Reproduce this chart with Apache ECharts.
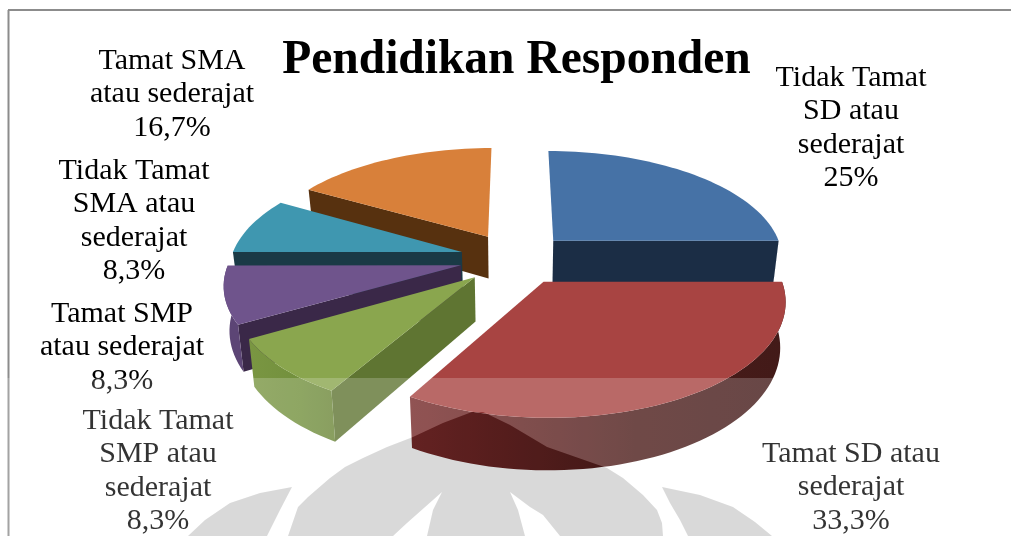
<!DOCTYPE html>
<html>
<head>
<meta charset="utf-8">
<style>html,body{margin:0;padding:0;background:#fff}#chart{width:1011px;height:536px}</style>
<script src="https://cdn.jsdelivr.net/npm/echarts@6/dist/echarts.min.js"></script>
</head>
<body>
<div id="chart"></div>
<script>
// Survey shares, clockwise from twelve o'clock
const categories = [
  'Tidak Tamat\nSD atau\nsederajat',
  'Tamat SD atau\nsederajat',
  'Tidak Tamat\nSMP atau\nsederajat',
  'Tamat SMP\natau sederajat',
  'Tidak Tamat\nSMA atau\nsederajat',
  'Tamat SMA\natau sederajat'
];
const shares = [25, 33.3, 8.3, 8.3, 8.3, 16.7];
const chartTitle = 'Pendidikan Responden';

// Painter's order for the exploded slices, rear to front
const drawOrder = [0, 5, 4, 3, 2, 1];

const palette = [
  { top: '#4672a6', cut: '#1b2d45', rim: ['#1b2d45', '#1b2d45', '#1b2d45'] },
  { top: '#a84442', cut: '#421a18', rim: ['#762828', '#4c1c1a', '#421a18'] },
  { top: '#8aa64e', cut: '#5f7532', rim: ['#7a9642', '#72903d', '#6c8739'] },
  { top: '#6f548c', cut: '#3a2848', rim: ['#5c4575', '#5c4575', '#5c4575'] },
  { top: '#3f97b0', cut: '#1a3a46', rim: ['#1a3a46', '#1a3a46', '#1a3a46'] },
  { top: '#d8803a', cut: '#57310f', rim: ['#57310f', '#57310f', '#57310f'] }
];

// Label anchors: horizontal centre and first-line centre
const labelAnchors = [[851, 78], [851, 454], [158, 421], [122, 314], [134, 171], [172, 61]];
const labelLineHeight = 33.4;

// Perspective camera for the tilted pie
const cam = { xv: 515, yv: 258.5, c: 231, a: 108, b: 0.15, explode: 0.24, depth: 43, taper: 0.02 };

const total = shares.reduce((s, v) => s + v, 0);
const bounds = [];
shares.reduce((acc, v) => {
  const next = acc + v;
  bounds.push([acc / total * 360, next / total * 360]);
  return next;
}, 0);

function project(U, V) {
  const d = 1 - cam.b * V;
  return [cam.xv + cam.c * U / d, cam.yv + cam.a * V / d];
}
function lower(U, V) {
  const p = project(U, V);
  const d = 1 - cam.b * V;
  return [p[0] + (cam.xv - p[0]) * cam.taper, p[1] + cam.depth / d];
}
function arcPoints(fn, off, from, to) {
  const pts = [];
  const n = Math.max(2, Math.ceil(Math.abs(to - from) / 2));
  for (let i = 0; i <= n; i++) {
    const t = (from + (to - from) * i / n) * Math.PI / 180;
    pts.push(fn(off[0] + Math.sin(t), off[1] - Math.cos(t)));
  }
  return pts;
}
function poly(points, fill) {
  return { type: 'polygon', silent: true, shape: { points }, style: { fill, stroke: null } };
}

function renderSlice(params, api) {
  const idx = api.value(0);
  const [start, end] = bounds[idx];
  const mid = (start + end) / 2 * Math.PI / 180;
  const off = [cam.explode * Math.sin(mid), -cam.explode * Math.cos(mid)];
  const col = palette[idx];
  const children = [];

  // Radial cut faces that turn toward the viewer
  const cutFace = (deg) => {
    const t = deg * Math.PI / 180;
    const U = off[0] + Math.sin(t), V = off[1] - Math.cos(t);
    children.push(poly([project(off[0], off[1]), project(U, V), lower(U, V), lower(off[0], off[1])], col.cut));
  };
  if (Math.sin(end * Math.PI / 180) > 0.001) cutFace(end);
  if (Math.sin(start * Math.PI / 180) < -0.001) cutFace(start);

  // Outer wall, front half only
  const from = Math.max(start, 90), to = Math.min(end, 270);
  if (to > from) {
    const topArc = arcPoints(project, off, from, to);
    const lowArc = arcPoints(lower, off, from, to).reverse();
    children.push(poly(topArc.concat(lowArc), new echarts.graphic.LinearGradient(0, 0, 1, 0, [
      { offset: 0, color: col.rim[0] }, { offset: 0.6, color: col.rim[1] }, { offset: 1, color: col.rim[2] }
    ])));
  }

  // Top face
  children.push(poly([project(off[0], off[1])].concat(arcPoints(project, off, start, end)), col.top));
  return { type: 'group', children };
}

function renderLabel(params, api) {
  const idx = api.value(0);
  const lines = categories[idx].split('\n').concat(String(shares[idx]).replace('.', ',') + '%');
  const [x, y] = labelAnchors[idx];
  return {
    type: 'group',
    children: lines.map((text, i) => ({
      type: 'text', silent: true,
      style: {
        x, y: y + i * labelLineHeight, text,
        fill: '#000', align: 'center', verticalAlign: 'middle',
        font: '30px "Liberation Serif", serif'
      }
    }))
  };
}

// Pale institutional seal printed across the lower part of the page
const sealParts = [
  [[288,536],[298,507],[308,497],[330,478],[345,467],[363,458],[387,447],[413,437],[443,423],[472,412],[483,412],[510,425],[547,447],[607,468],[623,478],[643,495],[657,510],[662,523],[663,536],
   [560,536],[543,515],[530,507],[510,492],[518,510],[525,536],[427,536],[433,510],[442,492],[433,500],[407,523],[393,536]],
  [[188,536],[205,520],[230,503],[260,493],[292,487],[280,510],[267,536]],
  [[662,487],[700,495],[733,507],[755,522],[772,536],[688,536],[680,520],[670,503]]
];
const toPath = (pts) => 'M' + pts.map((p) => p[0] + ' ' + p[1]).join('L') + 'Z';
const washPath = 'M0 378L0 536L1011 536L1011 378Z' + sealParts.map(toPath).join('');

const chart = echarts.init(document.getElementById('chart'), null, { renderer: 'canvas' });
chart.setOption({
  animation: false,
  backgroundColor: '#fff',
  graphic: [
    { type: 'line', silent: true, z: 0, shape: { x1: 8, y1: 10, x2: 1011, y2: 10 }, style: { stroke: '#8c8c8c', lineWidth: 2 } },
    { type: 'line', silent: true, z: 0, shape: { x1: 8.5, y1: 10, x2: 8.5, y2: 536 }, style: { stroke: '#8c8c8c', lineWidth: 2 } },
    {
      type: 'text', silent: true, z: 5, x: 516.5, y: 61,
      style: {
        text: chartTitle, fill: '#000', align: 'center', verticalAlign: 'middle',
        font: 'bold 47.5px "Liberation Serif", serif'
      }
    }
  ],
  series: [
    { type: 'custom', coordinateSystem: 'none', silent: true, z: 2, renderItem: renderSlice, data: drawOrder.map((i) => [i]) },
    { type: 'custom', coordinateSystem: 'none', silent: true, z: 3, renderItem: renderLabel, data: categories.map((_, i) => [i]) },
    {
      type: 'custom', coordinateSystem: 'none', silent: true, z: 10, data: [[0]],
      renderItem: () => ({
        type: 'group',
        children: [
          { type: 'path', silent: true, shape: { pathData: washPath, x: 0, y: 378, width: 1011, height: 158, layout: 'cover' }, style: { fill: 'rgba(255,255,255,0.2)' } }
        ].concat(sealParts.map((pts) => poly(pts, 'rgba(0,0,0,0.149)')))
      })
    }
  ]
});
</script>
</body>
</html>
